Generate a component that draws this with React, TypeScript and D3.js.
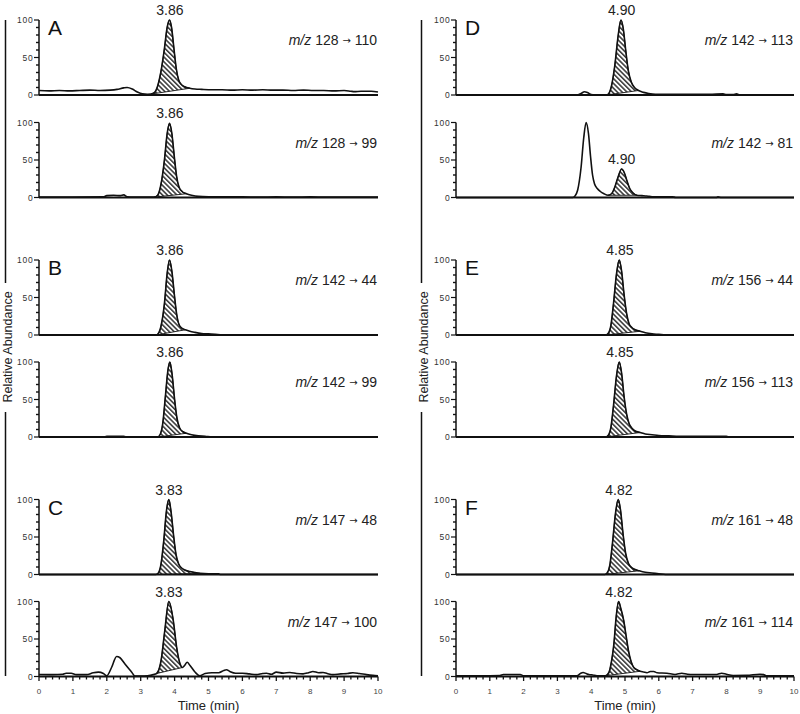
import React from 'react';
import * as d3 from 'd3';

type Pt = [number, number];

// chromatogram traces: [time (min), relative abundance]
const traceA1: Pt[] = [
  [0, 6], [0.3, 5.5], [0.6, 6], [0.9, 5.5], [1.2, 6], [1.5, 6.5], [1.8, 6], [2.1, 6.5], [2.3, 7.5],
  [2.5, 9.5], [2.6, 10], [2.75, 8], [2.9, 4], [3.05, 1.5], [3.2, 1], [3.3, 1.2], [3.4, 3], [3.5, 12],
  [3.6, 32], [3.7, 62], [3.78, 90], [3.85, 100], [3.91, 90], [3.98, 62], [4.05, 35], [4.12, 20],
  [4.2, 14], [4.3, 11], [4.45, 9], [4.6, 8], [4.8, 7.5], [5.1, 7], [5.4, 7], [5.7, 6.5], [6.0, 7],
  [6.3, 6.5], [6.6, 7], [6.9, 6.5], [7.2, 6.5], [7.5, 6], [7.8, 6.5], [8.1, 6], [8.4, 6], [8.7, 5.5],
  [9.0, 6], [9.2, 5], [9.3, 4.5], [9.5, 5], [9.8, 5], [10, 4],
];
const traceA2: Pt[] = [
  [0, 0.5], [1.0, 0.5], [1.9, 0.8], [2.0, 2.5], [2.2, 3], [2.4, 2.5], [2.5, 3.5], [2.6, 1], [2.8, 0.5],
  [3.4, 0.5], [3.5, 3], [3.6, 18], [3.7, 50], [3.78, 85], [3.85, 99], [3.92, 85], [3.99, 55], [4.06, 28],
  [4.13, 14], [4.22, 8], [4.35, 5], [4.5, 3], [4.7, 1.5], [5.0, 1], [5.5, 0.8], [6.0, 1], [6.5, 0.5],
  [7.0, 0.8], [7.5, 0.5], [8.0, 0.8], [8.5, 0.5], [9.0, 0.5], [10, 0.5],
];
const traceB1: Pt[] = [
  [0, 0], [3.45, 0], [3.52, 2], [3.6, 12], [3.7, 42], [3.78, 82], [3.85, 100], [3.92, 85], [3.99, 55],
  [4.06, 28], [4.13, 14], [4.22, 9], [4.32, 7], [4.45, 5], [4.6, 3.5], [4.8, 2], [5.0, 1.5], [5.2, 0.8],
  [5.4, 0], [10, 0],
];
const traceB2: Pt[] = [
  [0, 0], [1.9, 0], [2.0, 0.8], [2.5, 0.8], [2.6, 0], [3.5, 0], [3.57, 3], [3.65, 18], [3.73, 55],
  [3.8, 88], [3.86, 100], [3.93, 82], [4.0, 50], [4.07, 25], [4.15, 12], [4.25, 7], [4.35, 5], [4.5, 3],
  [4.7, 1.5], [4.9, 1], [5.1, 0], [10, 0],
];
const traceC1: Pt[] = [
  [0, 0], [3.45, 0], [3.52, 2], [3.6, 14], [3.68, 45], [3.76, 85], [3.83, 100], [3.9, 82], [3.97, 52],
  [4.04, 27], [4.12, 14], [4.2, 9], [4.3, 6], [4.45, 4], [4.6, 2.5], [4.75, 1.5], [5.0, 1], [5.3, 1],
  [5.35, 0], [10, 0],
];
const traceC2: Pt[] = [
  [0, 2.7], [0.4, 2.5], [0.7, 3], [0.8, 4.4], [0.95, 4.4], [1.1, 2.5], [1.4, 2.5], [1.6, 5], [1.75, 5.8],
  [1.9, 4], [2.0, 1], [2.14, 12], [2.29, 26.7], [2.39, 25], [2.53, 17], [2.73, 6], [2.83, 0.5], [3.0, 0.5],
  [3.2, 1], [3.37, 2.5], [3.47, 4], [3.6, 21], [3.71, 61], [3.83, 100], [3.96, 75], [4.06, 39], [4.16, 17],
  [4.23, 12], [4.3, 15], [4.37, 19], [4.45, 15], [4.6, 6], [4.74, 1], [4.9, 4], [5.1, 5], [5.3, 5],
  [5.45, 8], [5.53, 9], [5.63, 6.7], [5.8, 4.4], [6.0, 4.4], [6.2, 3.5], [6.41, 2.5], [6.6, 4], [6.71, 4.4],
  [6.85, 3], [7.0, 5.8], [7.2, 4.5], [7.4, 5.3], [7.6, 4], [7.79, 3.5], [7.95, 5], [8.08, 6.7], [8.25, 5],
  [8.38, 5.3], [8.5, 4], [8.67, 2.5], [8.9, 3.5], [9.1, 4], [9.26, 5], [9.45, 4], [9.66, 2.5], [9.85, 1.5],
  [10, 1],
];
const traceD1: Pt[] = [
  [0, 0], [3.6, 0], [3.7, 2], [3.8, 4.4], [3.9, 3], [4.0, 0.5], [4.1, 0], [4.45, 0], [4.52, 2], [4.6, 12],
  [4.7, 40], [4.8, 80], [4.88, 100], [4.95, 88], [5.02, 60], [5.1, 32], [5.18, 18], [5.28, 10], [5.4, 6],
  [5.55, 3.5], [5.7, 2], [5.9, 1], [6.2, 1], [6.5, 0.8], [7.0, 0.8], [7.5, 0.8], [7.9, 1.5], [8.0, 0.5],
  [8.2, 0.5], [8.3, 1.5], [8.4, 0], [10, 0],
];
const traceD2: Pt[] = [
  [0, 0], [3.45, 0], [3.52, 2], [3.6, 10], [3.7, 40], [3.78, 80], [3.85, 100], [3.92, 85], [3.98, 55],
  [4.04, 30], [4.1, 18], [4.18, 12], [4.27, 8], [4.38, 5], [4.5, 3], [4.6, 5], [4.7, 14], [4.8, 28],
  [4.9, 38], [4.98, 33], [5.06, 22], [5.14, 12], [5.24, 6], [5.35, 3], [5.5, 2.5], [5.65, 2], [5.8, 1],
  [6.0, 1], [6.4, 1], [6.5, 0], [7.7, 0], [7.75, 0.8], [7.85, 0], [10, 0],
];
const traceE1: Pt[] = [
  [0, 0], [4.42, 0], [4.5, 2], [4.58, 12], [4.66, 42], [4.75, 82], [4.83, 100], [4.9, 85], [4.97, 55],
  [5.05, 28], [5.12, 15], [5.2, 10], [5.3, 7], [5.45, 5], [5.6, 3], [5.8, 1.5], [6.0, 0.8], [6.2, 0], [10, 0],
];
const traceE2: Pt[] = [
  [0, 0], [4.42, 0], [4.5, 2], [4.58, 12], [4.66, 42], [4.75, 82], [4.83, 100], [4.9, 85], [4.97, 55],
  [5.05, 30], [5.12, 18], [5.2, 12], [5.3, 8], [5.45, 6], [5.6, 4], [5.8, 3], [6.0, 2], [6.3, 1.5],
  [6.6, 1], [7.0, 1], [7.5, 0.8], [8.0, 0.8], [8.1, 0], [10, 0],
];
const traceF1: Pt[] = [
  [0, 0], [4.4, 0], [4.47, 2], [4.55, 12], [4.63, 42], [4.72, 82], [4.8, 100], [4.87, 85], [4.94, 55],
  [5.02, 28], [5.1, 15], [5.18, 10], [5.28, 7], [5.42, 5], [5.6, 3], [5.8, 2], [6.0, 1], [6.2, 0], [10, 0],
];
const traceF2: Pt[] = [
  [0, 1], [0.5, 1], [1.0, 1], [1.3, 1.2], [1.4, 2.7], [1.9, 2.7], [2.0, 1], [3.0, 1], [3.58, 1], [3.68, 4],
  [3.76, 5.3], [3.85, 4], [3.93, 2.7], [4.05, 2], [4.17, 1], [4.42, 1], [4.52, 5], [4.6, 20], [4.67, 43],
  [4.74, 80], [4.81, 100], [4.88, 90], [4.96, 75], [5.03, 55], [5.1, 35], [5.18, 20], [5.26, 12], [5.35, 9],
  [5.45, 7], [5.55, 6], [5.65, 5], [5.75, 6.7], [5.85, 6.7], [5.95, 5], [6.24, 4.4], [6.48, 2.7], [6.68, 4.4],
  [6.85, 3], [7.02, 2.7], [7.4, 2.7], [7.71, 2.7], [7.86, 4.4], [8.0, 3], [8.2, 1.3], [8.6, 1.5], [8.99, 3],
  [9.1, 2.5], [9.2, 1], [10, 1],
];

const traces = [traceA1, traceA2, traceB1, traceB2, traceC1, traceC2, traceD1, traceD2, traceE1, traceE2, traceF1, traceF2];
const letters = ['A', '', 'B', '', 'C', '', 'D', '', 'E', '', 'F', ''];
const precursors = [128, 128, 142, 142, 147, 147, 142, 142, 156, 156, 161, 161];
const products = [110, 99, 44, 99, 48, 100, 113, 81, 44, 113, 48, 114];
const retention = ['3.86', '3.86', '3.86', '3.86', '3.83', '3.83', '4.90', '4.90', '4.85', '4.85', '4.82', '4.82'];
// integrated (hatched) window [start, end] in min
const hatchWindows: Pt[] = [
  [3.3, 4.45], [3.4, 4.35], [3.45, 4.32], [3.5, 4.35], [3.45, 4.75], [3.47, 4.23],
  [4.45, 5.4], [4.5, 5.35], [4.42, 5.45], [4.42, 5.45], [4.4, 5.42], [4.42, 5.45],
];
const yTicks = d3.range(0, 101, 10);
const xTicks = d3.range(0, 10.001, 0.2);

// layout
const colX: Pt[] = [[39, 378], [456, 794]];
const rowTops = [20, 122.5, 260, 362, 499.5, 601.5];
const panelH = 75;
const font = 'Liberation Sans, Arial, Helvetica, sans-serif';

const Panel = ({ i }: { i: number }) => {
  const col = Math.floor(i / 6);
  const row = i % 6;
  const [x0, x1] = colX[col];
  const top = rowTops[row];
  const x = d3.scaleLinear().domain([0, 10]).range([x0, x1]);
  const y = d3.scaleLinear().domain([0, 100]).range([top + panelH, top]);
  const data = traces[i];
  const line = d3.line<Pt>().x(d => x(d[0])).y(d => y(d[1])).curve(d3.curveMonotoneX);
  const [h0, h1] = hatchWindows[i];
  const inWin = data.filter(d => d[0] >= h0 && d[0] <= h1);
  const hatchPath = line(inWin) + 'Z';
  const peakVal = d3.max(inWin, d => d[1]) as number;
  const rt = +retention[i];
  const isBottom = row === 5;

  return (
    <g>
      <path d={hatchPath} fill="url(#hatch)" stroke="#111" strokeWidth={0.9} />
      {/* y axis */}
      <line x1={x0} x2={x0} y1={y(0)} y2={y(100)} stroke="#111" strokeWidth={1.5} />
      {yTicks.map(t => (
        <line key={t} x1={x0} x2={x0 - (t % 50 === 0 ? 5 : 3)} y1={y(t)} y2={y(t)} stroke="#111"
          strokeWidth={t % 50 === 0 ? 1.2 : 1.4} />
      ))}
      {[0, 50, 100].map(t => (
        <text key={t} x={x0 - 5.5} y={y(t) + 3} textAnchor="end" fontSize={8.5} letterSpacing={0.8}
          fill="#333">{t}</text>
      ))}
      {/* x axis */}
      <line x1={x0} x2={x1} y1={y(0)} y2={y(0)} stroke="#111" strokeWidth={2} />
      {isBottom && xTicks.map((t, k) => (
        <line key={k} x1={x(t)} x2={x(t)} y1={y(0)} y2={y(0) + (k % 5 === 0 ? 4.5 : 3)}
          stroke="#111" strokeWidth={1.3} />
      ))}
      {isBottom && d3.range(0, 11).map(t => (
        <text key={t} x={x(t)} y={y(0) + 17} textAnchor="middle" fontSize={8} fill="#444">{t}</text>
      ))}
      {isBottom && (
        <text x={(x0 + x1) / 2} y={y(0) + 33} textAnchor="middle" fontSize={13} fill="#222">Time (min)</text>
      )}
      <path d={line(data) as string} fill="none" stroke="#111" strokeWidth={1.6} strokeLinejoin="round" />
      {/* labels */}
      {letters[i] && (
        <text x={x0 + 9} y={top + 15} fontSize={21} fill="#111">{letters[i]}</text>
      )}
      <text x={x(rt)} y={y(peakVal) - 5} textAnchor="middle" fontSize={14} fill="#222">{retention[i]}</text>
      <text x={x1 - 1} y={top + 25} textAnchor="end" fontSize={14} fill="#222">
        <tspan fontStyle="italic">m/z</tspan> {precursors[i]}{' '}
        <tspan fontSize={10} fontFamily="DejaVu Sans" dy={-1}>→</tspan>
        <tspan dy={1}> {products[i]}</tspan>
      </text>
    </g>
  );
};

const SideLabel = ({ cx }: { cx: number }) => (
  <g>
    <line x1={cx} x2={cx} y1={20} y2={283} stroke="#111" strokeWidth={1.5} />
    <line x1={cx} x2={cx} y1={412} y2={676} stroke="#111" strokeWidth={1.5} />
    <text transform={`translate(${cx + 6},347) rotate(-90)`} textAnchor="middle" fontSize={12.5} fill="#222">
      Relative Abundance
    </text>
  </g>
);

export default function App() {
  return (
    <svg width={800} height={714} style={{ position: 'absolute', left: 0, top: 0, background: '#fff' }}
      fontFamily={font}>
      <defs>
        <pattern id="hatch" patternUnits="userSpaceOnUse" width={3.4} height={3.4} patternTransform="rotate(-45)">
          <line x1={0.8} y1={0} x2={0.8} y2={3.4} stroke="#111" strokeWidth={1.3} />
        </pattern>
      </defs>
      <rect width={800} height={714} fill="#fff" />
      <SideLabel cx={5.5} />
      <SideLabel cx={421.5} />
      {traces.map((_, i) => <Panel key={i} i={i} />)}
    </svg>
  );
}
